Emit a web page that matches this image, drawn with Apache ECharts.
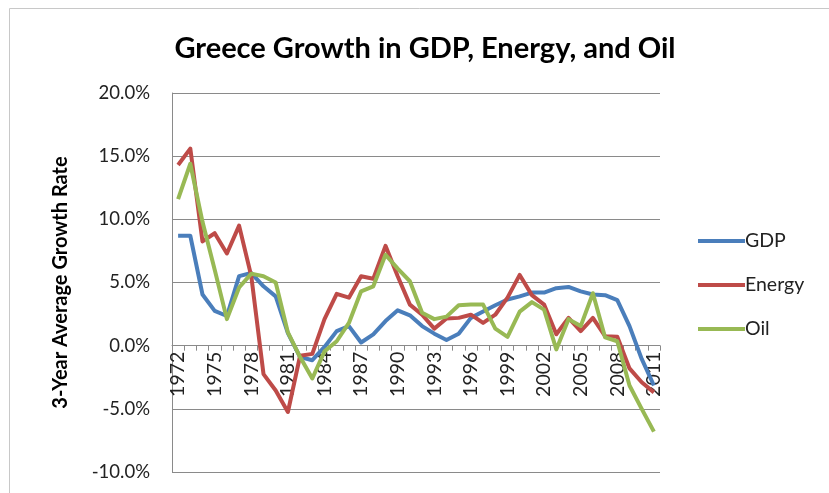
<!DOCTYPE html>
<html>
<head>
<meta charset="utf-8">
<script src="https://cdn.jsdelivr.net/npm/echarts@6/dist/echarts.min.js"></script>
<style>
  html, body { margin: 0; padding: 0; background: #fff; }
  #chart { width: 829px; height: 493px; }
</style>
</head>
<body>
<div id="chart"></div>
<script>
// Years 1972–2011 and 3-year average growth rates (percent)
const years = [];
for (let y = 1972; y <= 2011; y++) years.push(String(y));

const gdp = [8.7, 8.7, 4.05, 2.75, 2.35, 5.5, 5.75, 4.7, 3.9, 1.0,
  -0.9, -1.15, -0.1, 1.15, 1.55, 0.25, 0.9, 1.95, 2.8, 2.4,
  1.55, 0.95, 0.45, 0.95, 2.2, 2.7, 3.2, 3.65, 3.9, 4.2,
  4.2, 4.55, 4.65, 4.3, 4.05, 4.0, 3.6, 1.55, -1.05, -3.15];

const energy = [14.3, 15.6, 8.25, 8.9, 7.3, 9.5, 5.5, -2.25, -3.55, -5.25,
  -0.8, -0.65, 2.1, 4.1, 3.8, 5.5, 5.3, 7.9, 5.5, 3.25,
  2.45, 1.35, 2.15, 2.2, 2.45, 1.8, 2.45, 3.8, 5.6, 4.0,
  3.25, 0.9, 2.2, 1.15, 2.2, 0.75, 0.7, -1.8, -2.9, -3.7];

const oil = [11.6, 14.4, 9.8, 6.0, 2.1, 4.6, 5.7, 5.5, 5.0, 1.05,
  -0.9, -2.6, -0.45, 0.35, 1.8, 4.3, 4.7, 7.2, 6.1, 5.1,
  2.6, 2.1, 2.3, 3.2, 3.25, 3.25, 1.35, 0.7, 2.7, 3.45,
  2.85, -0.3, 2.1, 1.55, 4.15, 0.65, 0.35, -3.15, -5.0, -6.8];

const seriesNames = ['GDP', 'Energy', 'Oil'];
const seriesColors = ['#4A7EBB', '#BE4B48', '#98B954'];
const seriesData = [gdp, energy, oil];

const yMin = -10, yMax = 20;
const gridTop = 93, gridBottom = 21, chartHeight = 493;

// The category axis sits on the 0% line
const plotHeight = chartHeight - gridTop - gridBottom;
const zeroOffset = -plotHeight * (0 - yMin) / (yMax - yMin);

const fontFamily = 'Lato, "Open Sans", sans-serif';

const chart = echarts.init(document.getElementById('chart'));
chart.setOption({
  animation: false,
  backgroundColor: '#fff',
  textStyle: { fontFamily: fontFamily },
  title: {
    text: 'Greece Growth in GDP, Energy, and Oil',
    left: 420,
    textAlign: 'center',
    top: 29,
    textStyle: { fontSize: 29, fontWeight: 'bold', color: '#000', fontFamily: fontFamily }
  },
  legend: {
    orient: 'vertical',
    left: 693,
    top: 226,
    icon: 'rect',
    itemWidth: 47,
    itemHeight: 4,
    itemGap: 24,
    textStyle: { fontSize: 19.5, color: '#222', fontFamily: fontFamily, padding: [0, 0, 0, -5] },
    data: seriesNames
  },
  graphic: [{
    type: 'rect',
    shape: { x: 9.5, y: 8.5, width: 900, height: 600 },
    style: { fill: 'none', stroke: '#c8c8c8', lineWidth: 1 },
    silent: true
  }],
  grid: { left: 172, right: 169, top: gridTop, bottom: gridBottom, outerBoundsMode: 'none', containLabel: false },
  xAxis: {
    type: 'category',
    data: years,
    boundaryGap: true,
    offset: zeroOffset,
    axisLine: { onZero: false, lineStyle: { color: '#8a8a8a', width: 1 } },
    axisTick: { show: true, interval: 0, length: 5, lineStyle: { color: '#8a8a8a' } },
    axisLabel: { interval: 2, rotate: 90, fontSize: 19.5, color: '#222', margin: 6, fontFamily: fontFamily },
    splitLine: { show: false }
  },
  yAxis: {
    type: 'value',
    min: yMin,
    max: yMax,
    interval: 5,
    name: '3-Year Average Growth Rate',
    nameLocation: 'middle',
    nameGap: 101,
    nameTextStyle: { fontSize: 20, fontWeight: 'bold', color: '#000', fontFamily: fontFamily },
    axisLine: { show: true, lineStyle: { color: '#8a8a8a', width: 1 } },
    axisTick: { show: false },
    axisLabel: {
      fontSize: 18.5, color: '#222', margin: 22, fontFamily: fontFamily,
      formatter: v => v.toFixed(1) + '%'
    },
    splitLine: { show: true, lineStyle: { color: '#8a8a8a', width: 1 } }
  },
  series: seriesNames.map((name, i) => ({
    name: name,
    type: 'line',
    data: seriesData[i],
    symbol: 'none',
    color: seriesColors[i],
    lineStyle: { width: 4, color: seriesColors[i], join: 'round' }
  }))
});
</script>
</body>
</html>
